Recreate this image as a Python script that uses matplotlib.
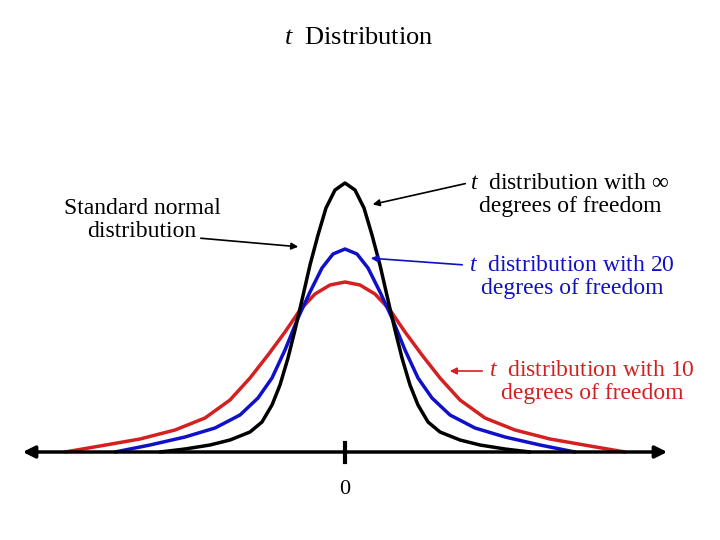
import matplotlib.pyplot as plt

plt.rcParams['font.family'] = ['Liberation Serif', 'DejaVu Serif']
plt.rcParams['mathtext.fontset'] = 'custom'
plt.rcParams['mathtext.it'] = 'Liberation Serif:italic'
plt.rcParams['mathtext.rm'] = 'Liberation Serif'

# points (left half, up to the peak); x centered at 0
x_black = [-1.85, -1.60, -1.35, -1.15, -0.95, -0.83, -0.73, -0.65, -0.57, -0.50, -0.43, -0.35, -0.27, -0.19, -0.10, 0.0]
y_black = [0.00, 0.03, 0.07, 0.12, 0.20, 0.30, 0.47, 0.67, 0.94, 1.22, 1.52, 1.87, 2.17, 2.44, 2.62, 2.69]
x_blue = [-2.30, -1.95, -1.60, -1.30, -1.05, -0.87, -0.73, -0.60, -0.47, -0.35, -0.23, -0.12, 0.0]
y_blue = [0.00, 0.07, 0.15, 0.24, 0.37, 0.54, 0.74, 1.02, 1.34, 1.60, 1.84, 1.98, 2.03]
x_red = [-2.80, -2.45, -2.05, -1.70, -1.40, -1.15, -0.95, -0.77, -0.60, -0.45, -0.30, -0.15, 0.0]
y_red = [0.00, 0.06, 0.13, 0.22, 0.34, 0.52, 0.74, 0.97, 1.20, 1.42, 1.58, 1.67, 1.70]

def full(xs, ys):
    return xs + [-v for v in xs[-2::-1]], ys + ys[-2::-1]

fig = plt.figure(figsize=(7.2, 5.4), dpi=100)
ax = fig.add_axes([0, 0, 1, 1])
ax.set_xlim(-3.45, 3.75)
ax.set_ylim(-0.88, 4.52)
ax.axis('off')

for xs, ys, c in [(x_red, y_red, '#d42020'), (x_blue, y_blue, '#1010c8'), (x_black, y_black, 'black')]:
    fx, fy = full(xs, ys)
    ax.plot(fx, fy, color=c, lw=2.5, solid_joinstyle='round', solid_capstyle='round')

ax.annotate('', xy=(-3.25, 0), xytext=(3.25, 0), arrowprops=dict(arrowstyle='<|-|>', color='black', lw=2.5, mutation_scale=18))
ax.plot([0, 0], [-0.1, 0.09], color='black', lw=3)
ax.text(0, -0.38, '0', ha='center', va='center', fontsize=16)

ax.text(0.14, 4.14, '$t$  Distribution', ha='center', va='center', fontsize=19)

ax.text(-2.03, 2.32, 'Standard normal\ndistribution', ha='center', va='center', fontsize=17, linespacing=1.1)
ax.annotate('', xy=(-0.44, 2.05), xytext=(-1.47, 2.14), arrowprops=dict(arrowstyle='-|>', color='black', lw=1.2))

ax.text(2.25, 2.57, '$t$  distribution with ∞\ndegrees of freedom', ha='center', va='center', fontsize=17, linespacing=1.1)
ax.annotate('', xy=(0.25, 2.47), xytext=(1.23, 2.69), arrowprops=dict(arrowstyle='-|>', color='black', lw=1.2))

ax.text(2.27, 1.75, '$t$  distribution with 20\ndegrees of freedom', ha='center', va='center', fontsize=17, color='#1010c8', linespacing=1.1)
ax.annotate('', xy=(0.23, 1.94), xytext=(1.20, 1.87), arrowprops=dict(arrowstyle='-|>', color='#1010c8', lw=1.2))

ax.text(2.47, 0.70, '$t$  distribution with 10\ndegrees of freedom', ha='center', va='center', fontsize=17, color='#d42020', linespacing=1.1)
ax.annotate('', xy=(1.02, 0.81), xytext=(1.40, 0.81), arrowprops=dict(arrowstyle='-|>', color='#d42020', lw=1.2))

fig.savefig('out.png', dpi=100)
